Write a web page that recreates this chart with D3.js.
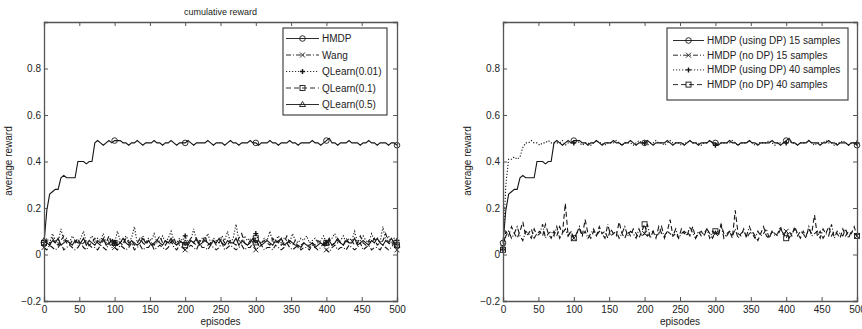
<!DOCTYPE html>
<html>
<head>
<meta charset="utf-8">
<script src="https://cdn.jsdelivr.net/npm/d3@7"></script>
<style>
  body { margin: 0; background: #fff; }
  svg { display: block; font-family: "Liberation Sans", Arial, sans-serif; }
</style>
</head>
<body>
<svg id="chart" width="862" height="329"></svg>
<script>
// episodes sampled every 4 steps
var episodes = d3.range(0, 501, 4);
var xTicks = [0, 50, 100, 150, 200, 250, 300, 350, 400, 450, 500];
var yTicks = [-0.2, 0, 0.2, 0.4, 0.6, 0.8];
var markerEpisodes = [0, 100, 200, 300, 400, 500];

// left panel
var hmdp = [0.05,0.19,0.26,0.27,0.28,0.28,0.33,0.34,0.33,0.33,0.33,0.33,0.40,0.40,0.40,0.39,0.40,0.40,0.48,
  0.49,0.48,0.47,0.48,0.49,0.48,0.49,0.49,0.49,0.48,
  0.48,0.47,0.48,0.48,0.49,0.48,0.47,0.48,0.48,0.48,
  0.49,0.48,0.48,0.47,0.48,0.48,0.49,0.48,0.47,0.48,
  0.48,0.48,0.49,0.48,0.47,0.48,0.48,0.48,0.48,0.49,
  0.48,0.47,0.48,0.48,0.48,0.47,0.48,0.49,0.48,0.48,
  0.47,0.48,0.48,0.48,0.49,0.48,0.48,0.47,0.48,0.48,
  0.48,0.49,0.48,0.48,0.47,0.48,0.48,0.48,0.49,0.48,
  0.48,0.47,0.48,0.48,0.48,0.48,0.49,0.48,0.48,0.47,
  0.48,0.49,0.50,0.48,0.48,0.47,0.48,0.48,0.48,0.49,
  0.48,0.48,0.48,0.47,0.48,0.48,0.49,0.48,0.48,0.47,
  0.48,0.48,0.48,0.47,0.48,0.48,0.47];
var wang = [0.03,0.02,0.04,0.03,0.02,0.03,0.05,0.02,0.03,0.04,
  0.03,0.02,0.03,0.05,0.03,0.02,0.04,0.03,0.03,0.02,
  0.04,0.03,0.02,0.05,0.03,0.03,0.02,0.04,0.03,0.02,
  0.03,0.05,0.02,0.03,0.04,0.02,0.03,0.03,0.05,0.02,
  0.03,0.04,0.03,0.02,0.03,0.06,0.03,0.02,0.04,0.03,
  0.02,0.03,0.04,0.03,0.02,0.05,0.03,0.03,0.02,0.04,
  0.03,0.02,0.03,0.05,0.02,0.03,0.04,0.03,0.02,0.03,
  0.04,0.02,0.03,0.03,0.05,0.02,0.03,0.04,0.02,0.03,
  0.03,0.02,0.04,0.03,0.02,0.03,0.05,0.03,0.02,0.03,
  0.04,0.02,0.03,0.03,0.02,0.04,0.03,0.02,0.03,0.05,
  0.02,0.01,0.03,0.04,0.02,0.03,0.03,0.02,0.04,0.03,
  0.02,0.03,0.05,0.02,0.03,0.04,0.02,0.03,0.03,0.02,
  0.04,0.03,0.02,0.03,0.05,0.02];
var qlearn001 = [0.04,0.07,0.05,0.09,0.06,0.05,0.11,0.06,0.07,0.05,
  0.08,0.06,0.05,0.07,0.10,0.05,0.06,0.08,0.05,0.07,
  0.06,0.09,0.05,0.06,0.07,0.05,0.10,0.06,0.05,0.08,
  0.06,0.07,0.12,0.05,0.06,0.08,0.05,0.07,0.06,0.09,
  0.05,0.06,0.08,0.05,0.07,0.10,0.06,0.05,0.07,0.06,
  0.08,0.05,0.06,0.11,0.06,0.05,0.07,0.06,0.09,0.05,
  0.07,0.06,0.05,0.08,0.06,0.10,0.05,0.07,0.13,0.06,
  0.05,0.08,0.06,0.07,0.05,0.09,0.06,0.05,0.07,0.06,
  0.10,0.05,0.06,0.08,0.05,0.07,0.06,0.05,0.09,0.06,
  0.05,0.07,0.06,0.08,0.05,0.06,0.07,0.05,0.06,0.08,
  0.05,0.06,0.07,0.09,0.05,0.06,0.08,0.05,0.07,0.06,
  0.10,0.05,0.06,0.08,0.06,0.05,0.09,0.06,0.07,0.05,
  0.12,0.06,0.08,0.05,0.07,0.06];
var qlearn01 = [0.05,0.06,0.04,0.07,0.05,0.04,0.06,0.08,0.05,0.04,
  0.06,0.05,0.07,0.04,0.05,0.06,0.04,0.05,0.07,0.05,
  0.04,0.06,0.05,0.08,0.04,0.05,0.06,0.05,0.04,0.07,
  0.05,0.06,0.04,0.05,0.07,0.05,0.04,0.06,0.05,0.04,
  0.06,0.08,0.05,0.04,0.06,0.05,0.07,0.04,0.05,0.06,
  0.04,0.05,0.07,0.05,0.04,0.06,0.05,0.08,0.04,0.05,
  0.06,0.04,0.05,0.07,0.05,0.04,0.06,0.05,0.04,0.07,
  0.09,0.05,0.04,0.06,0.05,0.07,0.04,0.05,0.06,0.05,
  0.04,0.07,0.05,0.06,0.04,0.05,0.08,0.05,0.04,0.06,
  0.03,0.04,0.05,0.04,0.03,0.05,0.04,0.06,0.05,0.04,
  0.05,0.07,0.04,0.05,0.06,0.05,0.04,0.07,0.05,0.06,
  0.04,0.05,0.08,0.05,0.04,0.06,0.05,0.07,0.04,0.05,
  0.06,0.09,0.05,0.04,0.06,0.04];
var qlearn05 = [0.06,0.05,0.04,0.06,0.05,0.07,0.04,0.05,0.06,0.05,
  0.04,0.06,0.05,0.05,0.07,0.04,0.06,0.05,0.04,0.06,
  0.05,0.07,0.04,0.05,0.06,0.05,0.04,0.05,0.07,0.05,
  0.04,0.06,0.05,0.04,0.05,0.07,0.05,0.06,0.04,0.05,
  0.06,0.05,0.04,0.06,0.05,0.07,0.05,0.04,0.06,0.05,
  0.05,0.04,0.06,0.05,0.07,0.04,0.05,0.06,0.05,0.04,
  0.06,0.05,0.07,0.05,0.04,0.06,0.05,0.05,0.07,0.04,
  0.06,0.05,0.04,0.05,0.07,0.05,0.06,0.04,0.05,0.06,
  0.05,0.04,0.06,0.05,0.07,0.04,0.05,0.06,0.05,0.04,
  0.04,0.03,0.05,0.04,0.04,0.05,0.03,0.04,0.05,0.04,
  0.05,0.06,0.04,0.05,0.07,0.05,0.04,0.06,0.05,0.05,
  0.07,0.04,0.05,0.06,0.05,0.04,0.06,0.05,0.07,0.05,
  0.04,0.06,0.05,0.07,0.05,0.04];

// right panel
var noDp15 = [0.03,0.08,0.10,0.07,0.09,0.12,0.08,0.06,0.10,0.09,
  0.07,0.11,0.08,0.09,0.13,0.07,0.09,0.10,0.08,0.12,
  0.07,0.09,0.11,0.08,0.10,0.07,0.09,0.12,0.08,0.10,
  0.07,0.09,0.11,0.08,0.10,0.09,0.07,0.13,0.08,0.09,
  0.10,0.07,0.09,0.12,0.08,0.10,0.09,0.07,0.11,0.08,
  0.09,0.13,0.07,0.10,0.08,0.09,0.12,0.07,0.10,0.09,
  0.08,0.11,0.07,0.09,0.10,0.08,0.12,0.09,0.07,0.10,
  0.08,0.09,0.11,0.07,0.10,0.09,0.08,0.13,0.07,0.09,
  0.10,0.08,0.11,0.07,0.09,0.10,0.08,0.12,0.09,0.07,
  0.10,0.08,0.09,0.11,0.07,0.10,0.08,0.09,0.12,0.08,
  0.10,0.07,0.09,0.11,0.08,0.10,0.09,0.07,0.12,0.08,
  0.09,0.10,0.07,0.11,0.09,0.08,0.13,0.07,0.10,0.09,
  0.08,0.11,0.07,0.10,0.09,0.08];
var usingDp40 = [0.02,0.30,0.41,0.41,0.42,0.41,0.42,0.46,0.48,0.48,
  0.49,0.48,0.48,0.47,0.48,0.48,0.49,0.48,0.48,
  0.48,0.48,0.49,0.47,0.48,0.48,0.48,0.49,0.48,0.47,
  0.48,0.48,0.47,0.48,0.49,0.48,0.48,0.47,0.48,0.48,
  0.48,0.49,0.48,0.47,0.48,0.48,0.48,0.47,0.48,0.49,
  0.48,0.48,0.47,0.48,0.48,0.49,0.48,0.48,0.47,0.48,
  0.49,0.48,0.48,0.48,0.47,0.48,0.48,0.49,0.48,0.48,
  0.48,0.47,0.48,0.48,0.49,0.48,0.47,0.48,0.48,0.48,
  0.48,0.48,0.49,0.48,0.47,0.48,0.48,0.48,0.49,0.48,
  0.47,0.48,0.48,0.48,0.48,0.49,0.48,0.47,0.48,0.48,
  0.48,0.48,0.49,0.48,0.48,0.47,0.48,0.48,0.48,0.49,
  0.48,0.47,0.48,0.48,0.48,0.49,0.48,0.48,0.47,0.48,
  0.48,0.49,0.48,0.47,0.48,0.48,0.48];
var noDp40 = [0.02,0.10,0.08,0.12,0.09,0.07,0.10,0.14,0.08,0.09,
  0.11,0.07,0.09,0.10,0.08,0.13,0.09,0.07,0.10,0.08,
  0.12,0.09,0.22,0.08,0.10,0.07,0.09,0.11,0.08,0.15,
  0.09,0.07,0.10,0.08,0.12,0.09,0.10,0.07,0.11,0.09,
  0.08,0.14,0.09,0.07,0.10,0.08,0.11,0.09,0.07,0.10,
  0.13,0.08,0.09,0.10,0.07,0.12,0.09,0.08,0.10,0.15,
  0.08,0.09,0.07,0.11,0.09,0.10,0.08,0.12,0.07,0.09,
  0.10,0.08,0.11,0.09,0.07,0.10,0.08,0.13,0.09,0.08,
  0.10,0.07,0.19,0.09,0.08,0.11,0.07,0.09,0.10,0.08,
  0.06,0.09,0.12,0.08,0.07,0.10,0.09,0.08,0.11,0.09,
  0.07,0.10,0.08,0.12,0.09,0.07,0.10,0.08,0.11,0.09,
  0.17,0.08,0.10,0.07,0.09,0.12,0.08,0.10,0.09,0.07,
  0.11,0.08,0.10,0.09,0.12,0.08];

var leftSeries = [
  { name: "HMDP", values: hmdp, dash: null, marker: "circle" },
  { name: "Wang", values: wang, dash: "5,2,1,2", marker: "x" },
  { name: "QLearn(0.01)", values: qlearn001, dash: "1.2,1.8", marker: "plus" },
  { name: "QLearn(0.1)", values: qlearn01, dash: "5,3", marker: "square" },
  { name: "QLearn(0.5)", values: qlearn05, dash: null, marker: "triangle" }
];
var rightSeries = [
  { name: "HMDP (using DP) 15 samples", values: hmdp, dash: null, marker: "circle" },
  { name: "HMDP (no DP) 15 samples", values: noDp15, dash: "5,2,1,2", marker: "x" },
  { name: "HMDP (using DP) 40 samples", values: usingDp40, dash: "1.2,1.8", marker: "plus" },
  { name: "HMDP (no DP) 40 samples", values: noDp40, dash: "5,3", marker: "square" }
];

var ink = "#151515", axisCol = "#555";
var svg = d3.select("#chart");

function drawMarker(g, type, x, y) {
  var s = 2.5;
  if (type == "circle") {
    g.append("circle").attr("cx", x).attr("cy", y).attr("r", s + 0.3)
      .attr("fill", "none").attr("stroke", ink).attr("stroke-width", 0.9);
  } else if (type == "x") {
    g.append("path").attr("d", "M" + (x - s) + "," + (y - s) + "L" + (x + s) + "," + (y + s) +
      "M" + (x - s) + "," + (y + s) + "L" + (x + s) + "," + (y - s))
      .attr("stroke", ink).attr("stroke-width", 0.9);
  } else if (type == "plus") {
    g.append("path").attr("d", "M" + (x - s) + "," + y + "L" + (x + s) + "," + y +
      "M" + x + "," + (y - s) + "L" + x + "," + (y + s))
      .attr("stroke", ink).attr("stroke-width", 1.4);
  } else if (type == "square") {
    g.append("rect").attr("x", x - s).attr("y", y - s).attr("width", 2 * s).attr("height", 2 * s)
      .attr("fill", "none").attr("stroke", ink).attr("stroke-width", 0.9);
  } else if (type == "triangle") {
    g.append("path").attr("d", "M" + x + "," + (y - s - 0.5) + "L" + (x + s + 0.5) + "," + (y + s - 0.5) +
      "L" + (x - s - 0.5) + "," + (y + s - 0.5) + "Z")
      .attr("fill", "none").attr("stroke", ink).attr("stroke-width", 0.9);
  }
}

function drawPanel(p) {
  var x = d3.scaleLinear().domain([0, 500]).range([p.left, p.right]);
  var y = d3.scaleLinear().domain([-0.2, 1.0]).range([301, 22]);
  var g = svg.append("g");

  // series
  var line = d3.line().x(function (d, i) { return x(episodes[i]); }).y(function (d) { return y(d); });
  p.series.slice().reverse().forEach(function (s) {
    g.append("path").datum(s.values).attr("d", line)
      .attr("fill", "none").attr("stroke", ink).attr("stroke-width", 1.1)
      .attr("stroke-dasharray", s.dash);
    markerEpisodes.forEach(function (e) {
      var i = episodes.indexOf(e);
      drawMarker(g, s.marker, x(e), y(s.values[i]));
    });
  });

  // axes box with inward ticks
  var axB = g.append("g").attr("transform", "translate(0,301)")
    .call(d3.axisBottom(x).tickValues(xTicks).tickSize(-4).tickPadding(5).tickFormat(d3.format("d")));
  var axT = g.append("g").attr("transform", "translate(0,22)")
    .call(d3.axisTop(x).tickValues(xTicks).tickSize(-4).tickFormat(""));
  var axL = g.append("g").attr("transform", "translate(" + p.left + ",0)")
    .call(d3.axisLeft(y).tickValues(yTicks).tickSize(-4).tickPadding(3)
      .tickFormat(function (d) { return d == 0 ? "0" : d3.format(".1f")(d); }));
  var axR = g.append("g").attr("transform", "translate(" + p.right + ",0)")
    .call(d3.axisRight(y).tickValues(yTicks).tickSize(-4).tickFormat(""));
  [axB, axT, axL, axR].forEach(function (a) {
    a.select(".domain").attr("stroke", axisCol).attr("stroke-width", 1.3);
    a.selectAll(".tick line").attr("stroke", axisCol);
    a.selectAll("text").attr("fill", "#222").style("font-size", "10px")
      .style("font-family", "'Liberation Sans', Arial, sans-serif");
  });
  // hide ticks at the box corners
  [axB, axT].forEach(function (a) { a.selectAll(".tick line").filter(function (d) { return d == 0 || d == 500; }).remove(); });
  [axL, axR].forEach(function (a) { a.selectAll(".tick line").filter(function (d) { return d == -0.2; }).remove(); });

  // labels
  g.append("text").attr("x", (p.left + p.right) / 2).attr("y", 325).attr("text-anchor", "middle")
    .style("font-size", "10px").attr("fill", "#222").text("episodes");
  g.append("text").attr("transform", "translate(" + (p.left - 32) + ",161) rotate(-90)")
    .attr("text-anchor", "middle").style("font-size", "10px").attr("fill", "#222").text("average reward");
  if (p.title) {
    g.append("text").attr("x", (p.left + p.right) / 2).attr("y", 15).attr("text-anchor", "middle")
      .style("font-size", "9px").attr("fill", "#222").text(p.title);
  }

  // legend
  var L = p.legend;
  var lg = g.append("g");
  lg.append("rect").attr("x", L.x).attr("y", L.y).attr("width", L.w).attr("height", L.h)
    .attr("fill", "#fff").attr("stroke", "#333").attr("stroke-width", 1.1);
  p.series.forEach(function (s, i) {
    var cy = L.y + L.first + i * L.step;
    lg.append("line").attr("x1", L.lx0).attr("x2", L.lx1).attr("y1", cy).attr("y2", cy)
      .attr("stroke", ink).attr("stroke-width", 0.9).attr("stroke-dasharray", s.dash);
    drawMarker(lg, s.marker, (L.lx0 + L.lx1) / 2, cy);
    lg.append("text").attr("x", L.tx).attr("y", cy + 3.5).style("font-size", "10px")
      .attr("fill", "#222").text(s.name);
  });
}

drawPanel({ left: 44, right: 397, series: leftSeries, title: "cumulative reward",
  legend: { x: 283, y: 28, w: 104, h: 87, first: 10.5, step: 16.5, lx0: 286, lx1: 319, tx: 322 } });
drawPanel({ left: 503, right: 857, series: rightSeries, title: null,
  legend: { x: 667, y: 28, w: 181, h: 72, first: 12.5, step: 14.7, lx0: 673, lx1: 704, tx: 707 } });
</script>
</body>
</html>
